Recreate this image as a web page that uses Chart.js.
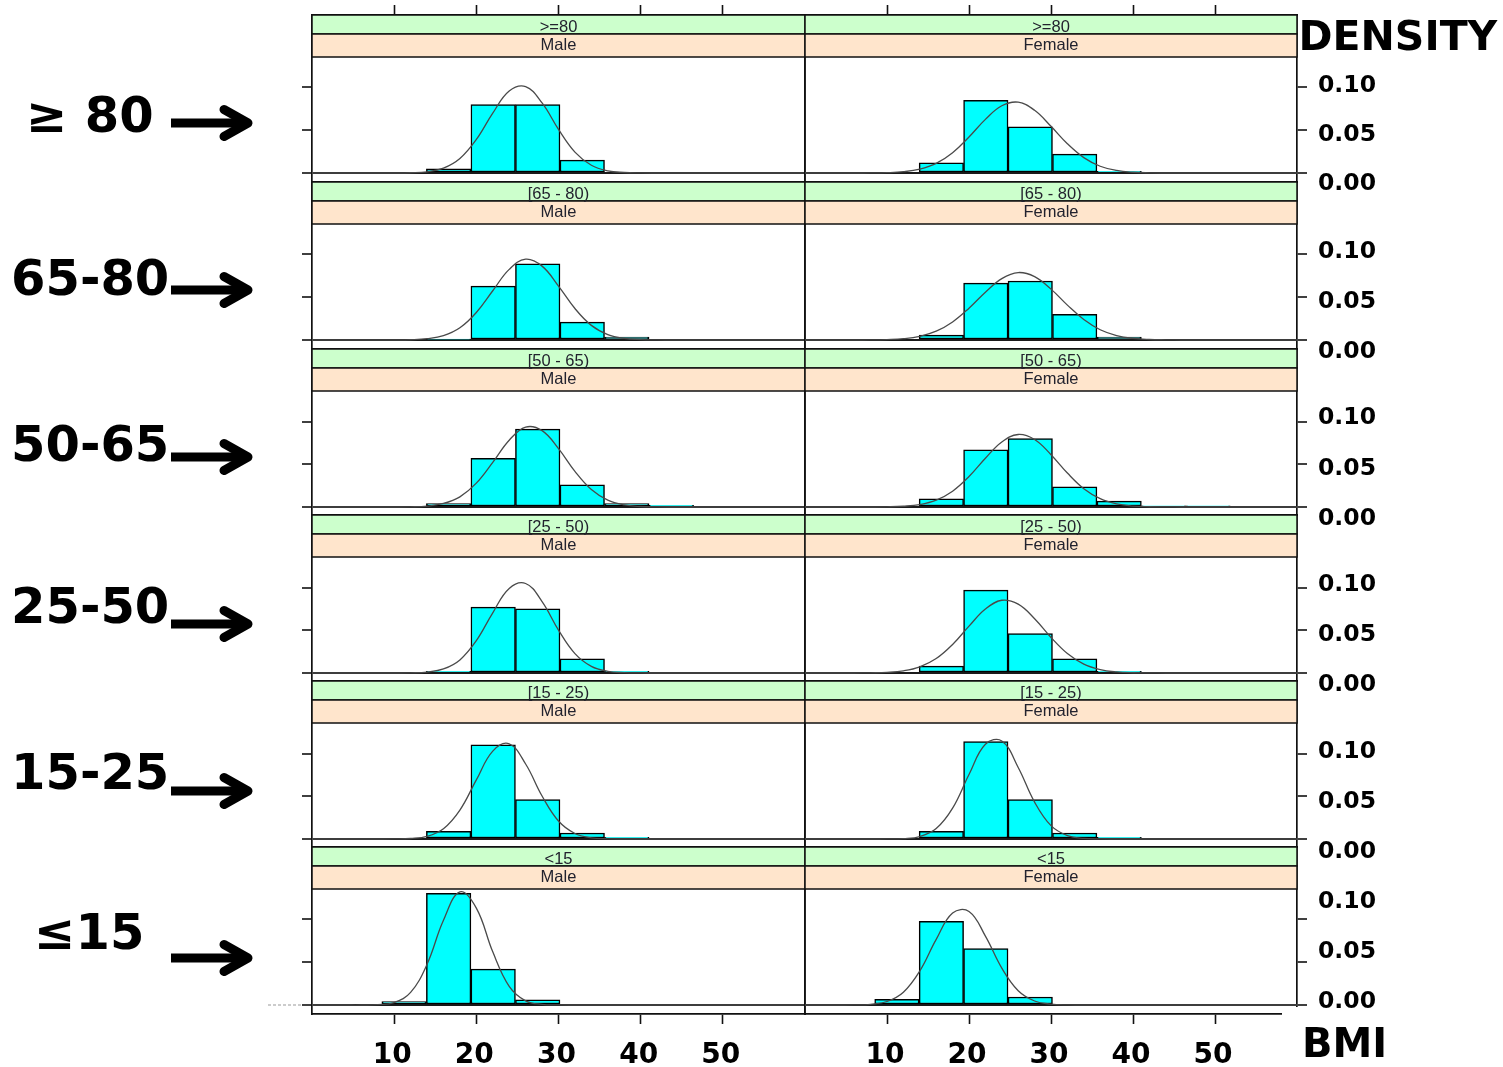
<!DOCTYPE html>
<html>
<head>
<meta charset="utf-8">
<title>BMI density by age group and sex</title>
<script src="https://cdn.jsdelivr.net/npm/chart.js@4.4.1/dist/chart.umd.min.js"></script>
<style>
  body { margin: 0; background: #fff; }
  #stage { position: relative; width: 1503px; height: 1067px; overflow: hidden; background: #fff; }
  #stage canvas { position: absolute; }
  #overlay { position: absolute; left: 0; top: 0; }
</style>
</head>
<body>
<div id="stage"><svg id="overlay" width="1503" height="1067"></svg></div>
<script>
// ==== data
const ageGroups = ['>=80', '[65 - 80)', '[50 - 65)', '[25 - 50)', '[15 - 25)', '<15'];
const ageLabels = ['\u2265 80', '65-80', '50-65', '25-50', '15-25', '\u226415'];
const sexes = ['Male', 'Female'];
const xTicks = [10, 20, 30, 40, 50];
const xTickLabels = ['10', '20', '30', '40', '50'];
const yTicks = [0, 0.05, 0.10];
const yTickLabels = ['0.10', '0.05', '0.00'];

// histogram bins, bar heights are densities (null = no bar)
const binCenters = [11.21, 16.63, 22.05, 27.47, 32.89, 38.31, 43.73, 49.15];

const barsGe80Male   = [null, 0.005, 0.080, 0.080, 0.015, null, null, null];
const barsGe80Female = [null, 0.012, 0.085, 0.054, 0.022, 0.002, null, null];
const bars65Male     = [null, 0.001, 0.063, 0.089, 0.021, 0.0035, null, null];
const bars65Female   = [null, 0.0057, 0.0665, 0.069, 0.030, 0.0035, null, null];
const bars50Male     = [null, 0.004, 0.057, 0.091, 0.026, 0.004, 0.002, null];
const bars50Female   = [null, 0.0096, 0.067, 0.080, 0.0236, 0.0068, 0.0015, 0.0015];
const bars25Male     = [null, 0.002, 0.077, 0.075, 0.0165, 0.002, null, null];
const bars25Female   = [null, 0.008, 0.097, 0.046, 0.0165, 0.002, null, null];
const bars15Male     = [null, 0.009, 0.110, 0.046, 0.007, 0.002, null, null];
const bars15Female   = [null, 0.009, 0.114, 0.046, 0.007, 0.002, null, null];
const barsLt15Male   = [0.004, 0.1306, 0.042, 0.006, null, null, null, null];
const barsLt15Female = [0.0067, 0.098, 0.066, 0.0094, null, null, null, null];

// fitted density curves, sampled at curveX
const curveX = [0, 4, 6, 8, 10, 12, 14, 16, 18, 20, 22, 24, 26, 28, 30, 32, 34, 36, 38, 40, 42, 44, 46, 48, 60];

const curveGe80Male   = [0, 0, 0, 0, 0, 0.0003, 0.0014, 0.0056, 0.0169, 0.0392, 0.0700, 0.0959, 0.1011, 0.0819, 0.0510, 0.0244, 0.0090, 0.0025, 0.0006, 0.0001, 0, 0, 0, 0, 0];
const curveGe80Female = [0, 0, 0, 0.0001, 0.0004, 0.0015, 0.0045, 0.0112, 0.0237, 0.0421, 0.0627, 0.0786, 0.0828, 0.0733, 0.0546, 0.0342, 0.0180, 0.0079, 0.0030, 0.0009, 0.0002, 0, 0, 0, 0];
const curve65Male     = [0, 0, 0, 0, 0, 0.0003, 0.0015, 0.0051, 0.0143, 0.0322, 0.0576, 0.0826, 0.0945, 0.0864, 0.0631, 0.0368, 0.0171, 0.0064, 0.0019, 0.0005, 0.0001, 0, 0, 0, 0];
const curve65Female   = [0, 0, 0, 0.0001, 0.0005, 0.0015, 0.0043, 0.0103, 0.0211, 0.0372, 0.0559, 0.0718, 0.0789, 0.0741, 0.0595, 0.0408, 0.0240, 0.0120, 0.0052, 0.0019, 0.0006, 0.0002, 0, 0, 0];
const curve50Male     = [0, 0, 0, 0, 0, 0.0002, 0.0011, 0.0041, 0.0119, 0.0279, 0.0522, 0.0781, 0.0934, 0.0893, 0.0683, 0.0417, 0.0204, 0.0080, 0.0025, 0.0006, 0.0001, 0, 0, 0, 0];
const curve50Female   = [0, 0, 0, 0, 0.0002, 0.0009, 0.0029, 0.0081, 0.0185, 0.0356, 0.0570, 0.0761, 0.0848, 0.0789, 0.0612, 0.0397, 0.0214, 0.0097, 0.0036, 0.0011, 0.0003, 0.0001, 0, 0, 0];
const curve25Male     = [0, 0, 0, 0, 0, 0.0002, 0.0011, 0.0047, 0.0153, 0.0378, 0.0704, 0.0989, 0.1047, 0.0835, 0.0502, 0.0227, 0.0078, 0.0020, 0.0004, 0.0001, 0, 0, 0, 0, 0];
const curve25Female   = [0, 0, 0, 0.0002, 0.0007, 0.0025, 0.0072, 0.0169, 0.0334, 0.0548, 0.0748, 0.0851, 0.0805, 0.0635, 0.0416, 0.0227, 0.0103, 0.0039, 0.0012, 0.0003, 0.0001, 0, 0, 0, 0];
const curve15Male     = [0, 0, 0, 0, 0.0001, 0.0006, 0.0031, 0.0121, 0.0339, 0.0691, 0.1028, 0.1113, 0.0877, 0.0503, 0.0210, 0.0064, 0.0014, 0.0002, 0, 0, 0, 0, 0, 0, 0];
const curve15Female   = [0, 0, 0, 0, 0.0001, 0.0005, 0.0029, 0.0122, 0.0361, 0.0754, 0.1108, 0.1147, 0.0837, 0.0431, 0.0156, 0.0040, 0.0007, 0.0001, 0, 0, 0, 0, 0, 0, 0];
const curveLt15Male   = [0, 0, 0, 0.0004, 0.0029, 0.0147, 0.0476, 0.0991, 0.1323, 0.1133, 0.0622, 0.0219, 0.0049, 0.0007, 0.0001, 0, 0, 0, 0, 0, 0, 0, 0, 0, 0];
const curveLt15Female = [0, 0, 0.0001, 0.0008, 0.0041, 0.0150, 0.0398, 0.0768, 0.1076, 0.1094, 0.0806, 0.0431, 0.0167, 0.0047, 0.0010, 0.0001, 0, 0, 0, 0, 0, 0, 0, 0, 0];

// rows top to bottom, [Male, Female]
const panelBars = [
  [barsGe80Male, barsGe80Female],
  [bars65Male, bars65Female],
  [bars50Male, bars50Female],
  [bars25Male, bars25Female],
  [bars15Male, bars15Female],
  [barsLt15Male, barsLt15Female]
];
const panelCurves = [
  [curveGe80Male, curveGe80Female],
  [curve65Male, curve65Female],
  [curve50Male, curve50Female],
  [curve25Male, curve25Female],
  [curve15Male, curve15Female],
  [curveLt15Male, curveLt15Female]
];

// ==== layout
const stage = document.getElementById('stage');
const overlay = document.getElementById('overlay');

const colLeft = [312, 805];
const colRight = [805, 1297];
const rowTop = [15, 182, 349, 515, 681, 847];
const lastBottom = 1014;
const M = 14;           // canvas margin: 4px padding + 10px tick marks
const pxPerUnit = 855;  // density -> px
const zeroOff = 158;    // strip top -> y = 0
const none = 'rgba(0,0,0,0)';

function xAxis(pos, showTicks) {
  return {
    type: 'linear', position: pos, min: 0, max: 60, offset: false,
    afterBuildTicks: s => { s.ticks = xTicks.map(v => ({ value: v })); },
    ticks: { display: false },
    grid: { offset: false, drawOnChartArea: false, tickLength: 10, tickWidth: 1.6,
            tickColor: showTicks ? '#111' : none },
    border: { display: true, color: '#111', width: 1.7 }
  };
}

function yAxis(pos, showTicks, yMin, yMax, zeroLine) {
  return {
    type: 'linear', position: pos, min: yMin, max: yMax,
    afterBuildTicks: s => { s.ticks = yTicks.map(v => ({ value: v })); },
    ticks: { display: false },
    grid: { drawOnChartArea: zeroLine, tickLength: 10, tickWidth: 1.6, lineWidth: 2,
            color: ctx => (ctx.tick && ctx.tick.value === 0) ? '#1b1b1b' : none,
            tickColor: showTicks ? '#111' : none },
    border: { display: true, color: '#111', width: 1.7 }
  };
}

const charts = [];

for (let r = 0; r < 6; r++) {
  for (let c = 0; c < 2; c++) {
    const top = rowTop[r];
    const bottom = r < 5 ? rowTop[r + 1] : lastBottom;
    const h = bottom - top;
    const left = colLeft[c];
    const w = colRight[c] - left;

    const cv = document.createElement('canvas');
    cv.width = w + 2 * M;
    cv.height = h + 2 * M;
    cv.style.left = (left - M) + 'px';
    cv.style.top = (top - M) + 'px';
    stage.insertBefore(cv, overlay);

    const yMax = zeroOff / pxPerUnit;
    const yMin = -(h - zeroOff) / pxPerUnit;

    const barData = binCenters
      .map((x, i) => ({ x: x, y: panelBars[r][c][i] }))
      .filter(d => d.y !== null);
    const curveData = curveX.map((x, i) => ({ x: x, y: panelCurves[r][c][i] }));

    const chart = new Chart(cv, {
      type: 'bar',
      data: {
        datasets: [
          {
            type: 'line',
            data: curveData,
            borderColor: '#4a4a4a',
            borderWidth: 1.3,
            pointRadius: 0,
            tension: 0.4,
            fill: false,
            order: 0
          },
          {
            type: 'bar',
            data: barData,
            backgroundColor: '#00ffff',
            borderColor: '#000',
            borderWidth: 1.5,
            borderSkipped: false,
            categoryPercentage: 1,
            barPercentage: 1,
            order: 1
          }
        ]
      },
      options: {
        responsive: false,
        animation: false,
        events: [],
        layout: { padding: 4 },
        plugins: { legend: { display: false }, tooltip: { enabled: false } },
        scales: {
          x: xAxis('bottom', r === 5),
          xTop: xAxis('top', r === 0),
          y: yAxis('left', c === 0, yMin, yMax, true),
          yRight: yAxis('right', c === 1, yMin, yMax, false)
        }
      }
    });
    charts.push({ chart: chart, r: r, c: c, left: left, top: top, w: w });
  }
}

// ==== strips and annotations (svg overlay)
const NS = 'http://www.w3.org/2000/svg';
function add(tag, attrs, text) {
  const e = document.createElementNS(NS, tag);
  for (const k in attrs) e.setAttribute(k, attrs[k]);
  if (text !== undefined) e.textContent = text;
  overlay.appendChild(e);
  return e;
}

const stripFont = { 'font-family': 'Liberation Sans, Arial, sans-serif', 'font-size': 16.5,
                    fill: '#22222e', 'text-anchor': 'middle' };
const bold = { 'font-family': 'DejaVu Sans, Verdana, sans-serif', 'font-weight': 'bold', fill: '#000' };

charts.forEach(p => {
  add('rect', { x: p.left, y: p.top, width: p.w, height: 19,
                fill: '#ccffcc', stroke: '#111', 'stroke-width': 1.5 });
  add('rect', { x: p.left, y: p.top + 19, width: p.w, height: 23,
                fill: '#ffe5cc', stroke: '#111', 'stroke-width': 1.5 });
  add('text', Object.assign({ x: p.left + p.w / 2, y: p.top + 16.5 }, stripFont), ageGroups[p.r]);
  add('text', Object.assign({ x: p.left + p.w / 2, y: p.top + 35 }, stripFont), sexes[p.c]);
});

// left age labels with arrows
const labelX = [26, 11, 11, 11, 11, 34];
const labelBase = [132, 295, 461, 623, 789, 949];
const arrowY = [123, 290, 457, 624, 791, 958];
ageLabels.forEach((t, r) => {
  add('text', Object.assign({ x: labelX[r], y: labelBase[r], 'font-size': 49.5 }, bold), t);
  const y = arrowY[r];
  add('path', { d: `M171 ${y} H244`, stroke: '#000', 'stroke-width': 9, fill: 'none' });
  add('path', { d: `M224 ${y - 13.5} L248 ${y} L224 ${y + 13.5}`, stroke: '#000', 'stroke-width': 9,
                fill: 'none', 'stroke-linecap': 'round', 'stroke-linejoin': 'round' });
});

// right density labels
add('text', Object.assign({ x: 1298.5, y: 50, 'font-size': 41 }, bold), 'DENSITY');
const densityBase = [
  [91.5, 140.5, 190], [257.5, 307.5, 357.5], [424, 474.5, 524.5],
  [590.5, 640.5, 690.5], [757.5, 807.5, 857.5], [908, 958, 1008]
];
densityBase.forEach(rowY => {
  rowY.forEach((y, i) => {
    add('text', Object.assign({ x: 1318, y: y, 'font-size': 23.5 }, bold), yTickLabels[i]);
  });
});

// the pasted corner at the bottom right, and the stray line at the left
add('rect', { x: 1282, y: 1007, width: 20, height: 26, fill: '#fff' });
add('line', { x1: 268, y1: 1005, x2: 302, y2: 1005, stroke: '#9a9a9a', 'stroke-width': 1.2,
              'stroke-dasharray': '3 2' });

// BMI axis labels under the bottom row
charts.filter(p => p.r === 5).forEach(p => {
  const sx = p.chart.scales.x;
  xTicks.forEach((v, i) => {
    const px = sx.getPixelForValue(v) + p.left - M - 2;
    add('text', Object.assign({ x: px, y: 1062.5, 'font-size': 28, 'text-anchor': 'middle' }, bold),
        xTickLabels[i]);
  });
});
add('text', Object.assign({ x: 1302, y: 1057, 'font-size': 40 }, bold), 'BMI');
</script>
</body>
</html>
